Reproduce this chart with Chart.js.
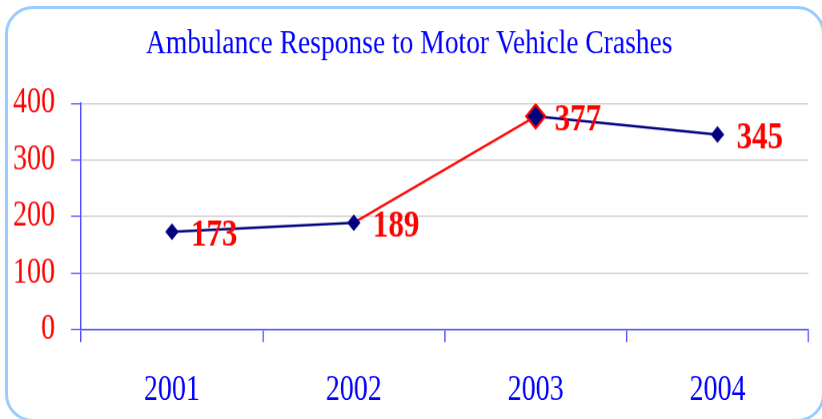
<!DOCTYPE html>
<html>
<head>
<meta charset="utf-8">
<script src="https://cdn.jsdelivr.net/npm/chart.js@4"></script>
<style>
html,body{margin:0;padding:0;background:#fff;overflow:hidden;}
#box{position:absolute;left:5px;top:6px;width:820px;height:416px;box-sizing:border-box;border:3px solid #99ccff;border-radius:28px;}
#wrap{position:absolute;left:0;top:0;width:822px;height:419px;}
</style>
</head>
<body>
<div id="box"></div>
<div id="wrap"><canvas id="canvas" width="822" height="335" style="width:822px;height:419px"></canvas></div>
<script>
var annees=["2001","2002","2003","2004"];
var reponses=[173,189,377,345];
var yTicks=[0,100,200,300,400];

var serif="'Liberation Serif','Times New Roman',serif";

// le dessin original est étiré en hauteur : canvas de 335 de haut affiché sur 419
// étiquettes rouges à droite des points
var etiquettes={
  id:"etiquettes",
  afterDatasetsDraw:function(chart){
    var ctx=chart.ctx;
    var meta=chart.getDatasetMeta(0);
    ctx.save();
    ctx.font="bold 31px "+serif;
    ctx.fillStyle="#ff0000";
    ctx.textAlign="left";
    ctx.textBaseline="middle";
    meta.data.forEach(function(pt,i){
      ctx.fillText(String(reponses[i]),pt.x+19,pt.y+3);
    });
    ctx.restore();
  }
};

var courbe={
  data:reponses,
  borderColor:"#000080",
  borderWidth:2,
  backgroundColor:"#000080",
  pointStyle:"rectRot",
  pointRadius:[6,6,9.5,6],
  pointHoverRadius:[6,6,9.5,6],
  pointBackgroundColor:"#000080",
  pointBorderColor:["#000080","#000080","#ff0000","#000080"],
  pointBorderWidth:[1,1,2,1],
  fill:false,
  tension:0,
  segment:{
    borderColor:function(c){return c.p0DataIndex===1?"#ff0000":"#000080";}
  }
};

var config={
  type:"line",
  data:{labels:annees,datasets:[courbe]},
  plugins:[etiquettes],
  options:{
    responsive:false,
    animation:false,
    devicePixelRatio:1.25,
    layout:{padding:{left:10,right:14,top:0,bottom:0}},
    plugins:{
      legend:{display:false},
      tooltip:{enabled:false},
      title:{
        display:true,
        text:"Ambulance Response to Motor Vehicle Crashes",
        color:"#0000ff",
        font:{family:serif,size:27.5,weight:"normal"},
        padding:{top:18.5,bottom:31}
      }
    },
    scales:{
      x:{
        offset:true,
        border:{color:"#4d4dff",width:1.3},
        grid:{offset:true,drawOnChartArea:false,tickLength:10,tickColor:"#4d4dff",lineWidth:1.3},
        ticks:{color:"#0000ff",font:{family:serif,size:28},padding:22},
        afterFit:function(s){s.height=72;}
      },
      y:{
        min:0,max:400,
        afterBuildTicks:function(s){s.ticks=yTicks.map(function(v){return {value:v};});},
        border:{color:"#4d4dff",width:1.3},
        grid:{color:"#c8c8c8",tickColor:"#4d4dff",tickLength:10,lineWidth:1},
        ticks:{color:"#ff0000",font:{family:serif,size:28},padding:16},
        afterFit:function(s){s.width=71;}
      }
    }
  }
};

window.onload=function(){
  var ctx=document.getElementById("canvas").getContext("2d");
  window.graph1=new Chart(ctx,config);
};
</script>
</body>
</html>
